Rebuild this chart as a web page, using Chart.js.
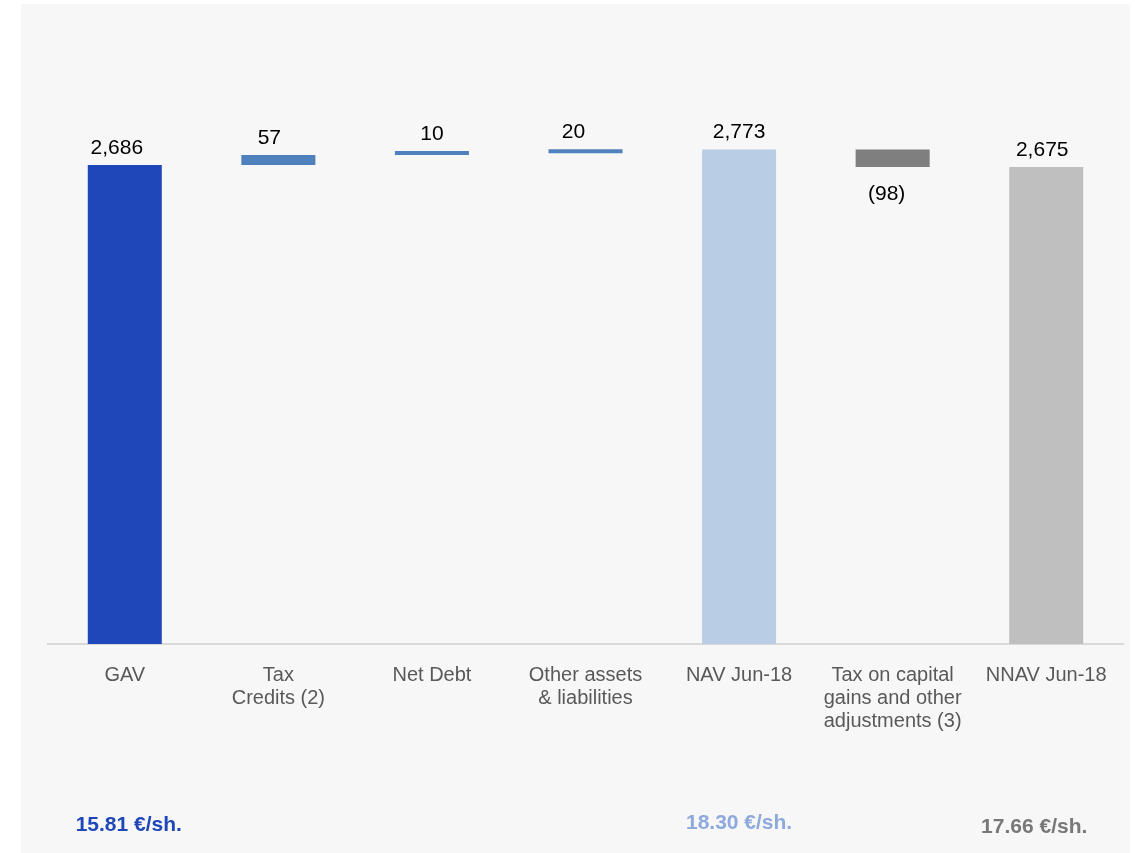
<!DOCTYPE html>
<html>
<head>
<meta charset="utf-8">
<script src="https://cdn.jsdelivr.net/npm/chart.js@4/dist/chart.umd.min.js"></script>
<style>
	html, body { margin: 0; padding: 0; background: #ffffff; }
	canvas { display: block; }
</style>
</head>
<body>
<canvas id="chart-waterfall" width="1135" height="853"></canvas>
<script>
// Chart data
const CATEGORIES = [
	"GAV",
	["Tax", "Credits (2)"],
	"Net Debt",
	["Other assets", "& liabilities"],
	"NAV Jun-18",
	["Tax on capital", "gains and other", "adjustments (3)"],
	"NNAV Jun-18",
];
// "total" bars stand on zero, "step" bars float on the running total
const KINDS = ["total", "step", "step", "step", "total", "step", "total"];
const VALUES = [2686, 57, 10, 20, 2773, -98, 2675];
const BAR_COLORS = ["#2047b9", "#4f81bd", "#4f81bd", "#4f81bd", "#b9cde5", "#7f7f7f", "#bfbfbf"];
const PER_SHARE = ["15.81 €/sh.", null, null, null, "18.30 €/sh.", null, "17.66 €/sh."];
const PER_SHARE_COLORS = ["#2047b9", null, null, null, "#8eaadc", null, "#787878"];

const FONT = "'Liberation Sans', Arial, sans-serif";
// small nudges of the labels, as placed in the slide
const LABEL_SHIFT = [-8, -9, 0, -12, 0, -6, -4];
const SHARE_SHIFT = [[4, 1], null, null, null, [0, -1], null, [-12, 3]];

// Floating ranges from the running total
let running = 0;
const RANGES = VALUES.map((v, i) => {
	if (KINDS[i] === "total") {
		running = v;
		return [0, v];
	}
	const start = running;
	running += v;
	return [start, running];
});

const fmt = (v) => {
	const s = Math.abs(v).toLocaleString("en-US");
	return v < 0 ? "(" + s + ")" : s;
};

// Grey panel behind the chart
const panelBackground = {
	id: "panelBackground",
	beforeDraw(chart) {
		const { ctx } = chart;
		ctx.save();
		ctx.fillStyle = "#f7f7f7";
		ctx.fillRect(21, 4, 1109, 849);
		ctx.restore();
	},
};

// Value labels and per share figures
const barLabels = {
	id: "barLabels",
	afterDatasetsDraw(chart) {
		const { ctx, chartArea } = chart;
		const meta = chart.getDatasetMeta(0);
		ctx.save();
		ctx.textAlign = "center";
		ctx.textBaseline = "middle";
		meta.data.forEach((bar, i) => {
			const top = Math.min(bar.y, bar.base);
			const bottom = Math.max(bar.y, bar.base);
			const x = bar.x + LABEL_SHIFT[i];
			ctx.font = "21px " + FONT;
			ctx.fillStyle = "#000000";
			if (VALUES[i] < 0) {
				ctx.fillText(fmt(VALUES[i]), x, bottom + 27);
			} else {
				ctx.fillText(fmt(VALUES[i]), x, top - 17);
			}
			if (PER_SHARE[i]) {
				const [dx, dy] = SHARE_SHIFT[i];
				ctx.font = "bold 21px " + FONT;
				ctx.fillStyle = PER_SHARE_COLORS[i];
				ctx.fillText(PER_SHARE[i], bar.x + dx, chartArea.bottom + 180 + dy);
			}
		});
		ctx.restore();
	},
};

const DATA = {
	labels: CATEGORIES,
	datasets: [
		{
			data: RANGES,
			backgroundColor: BAR_COLORS,
			borderWidth: 0,
			borderSkipped: false,
			barPercentage: 0.482,
			categoryPercentage: 1,
			minBarLength: 4,
		},
	],
};

const CONFIG = {
	type: "bar",
	data: DATA,
	options: {
		responsive: false,
		animation: false,
		layout: {
			padding: {
				left: 48,
				right: 12,
				top: 20,
				bottom: 100,
			},
		},
		plugins: {
			legend: { display: false },
			title: { display: false },
			tooltip: { enabled: false },
		},
		scales: {
			x: {
				border: {
					display: true,
					color: "#d9d9d9",
					width: 2,
				},
				grid: {
					display: false,
					drawTicks: false,
				},
				ticks: {
					color: "#595959",
					padding: 20,
					maxRotation: 0,
					autoSkip: false,
					font: {
						family: FONT,
						size: 20,
						lineHeight: 1.15,
					},
				},
			},
			y: {
				display: false,
				min: 0,
				max: 3500,
			},
		},
	},
	plugins: [panelBackground, barLabels],
};

// Init chart
const WRAPPER = document.getElementById("chart-waterfall");
if (WRAPPER) {
	new Chart(WRAPPER, CONFIG);
}
</script>
</body>
</html>
